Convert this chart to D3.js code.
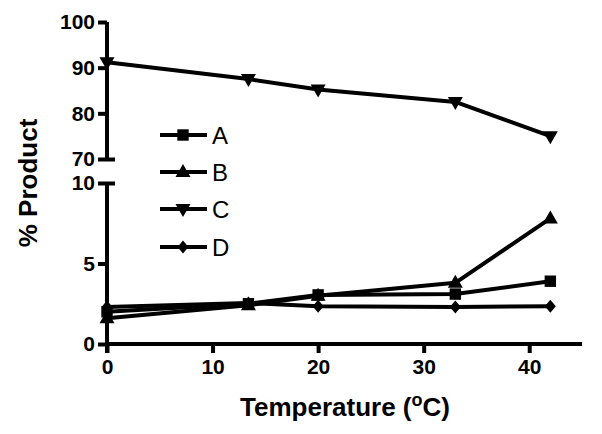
<!DOCTYPE html>
<html><head><meta charset="utf-8">
<script src="https://cdn.jsdelivr.net/npm/d3@7"></script>
<style>body{margin:0;background:#fff}svg{display:block}text{font-family:"Liberation Sans",Arial,sans-serif}</style>
</head><body>
<script>
const temps = [0, 13.4, 20, 33, 42];
const seriesA = [2.0, 2.5, 3.05, 3.1, 3.9];
const seriesB = [1.6, 2.4, 3.0, 3.8, 7.8];
const seriesC = [91.2, 87.5, 85.2, 82.5, 75.0];
const seriesD = [2.3, 2.55, 2.35, 2.3, 2.35];
const seriesNames = ["A", "B", "C", "D"];
const symbols = ["square", "triangle", "triangleDown", "diamond"];
const xTicks = [0, 10, 20, 30, 40];
const yTicksTop = [70, 80, 90, 100];
const yTicksBottom = [0, 5, 10];

const W = 602, H = 434;
const svg = d3.select("body").append("svg").attr("width", W).attr("height", H);

const x = d3.scaleLinear().domain([0, 45]).range([107, 582]);
const yTop = d3.scaleLinear().domain([70, 100]).range([159, 22]);
const yBot = d3.scaleLinear().domain([0, 10]).range([344, 183]);

function yOf(v) { return v >= 50 ? yTop(v) : yBot(v); }

const data = [seriesA, seriesB, seriesC, seriesD];

// axes
const gTop = svg.append("g").attr("transform", `translate(${x(0)},0)`)
  .call(d3.axisLeft(yTop).tickValues(yTicksTop).tickSize(9).tickPadding(3));
const gBot = svg.append("g").attr("transform", `translate(${x(0)},0)`)
  .call(d3.axisLeft(yBot).tickValues(yTicksBottom).tickSize(9).tickPadding(3));
const gX = svg.append("g").attr("transform", `translate(0,${yBot(0)})`)
  .call(d3.axisBottom(x).tickValues(xTicks).tickSize(9).tickPadding(6));

[gTop, gBot, gX].forEach(g => {
  g.select(".domain").attr("stroke", "#000").attr("stroke-width", 4);
  g.selectAll(".tick line").attr("stroke", "#000").attr("stroke-width", 4);
  g.selectAll(".tick text").attr("fill", "#000").style("font-size", "21px").style("font-weight", "bold")
    .style("font-family", '"Liberation Sans", Arial, sans-serif');
});
gTop.select(".domain").attr("d", `M0,${yTop(100)}V${yTop(70)}`);
gBot.select(".domain").attr("d", `M0,${yBot(10)}V${yBot(0) + 9}`);
gX.select(".domain").attr("d", `M${x(0)},0H${x(45)}`);
// break caps
gTop.selectAll(".tick").filter(d => d === 70).select("line").attr("x1", 8);
gBot.selectAll(".tick").filter(d => d === 10).select("line").attr("x1", 8);

// lines
const line = d3.line().x((d, i) => x(temps[i])).y(d => yOf(d));
data.forEach((s, k) => {
  svg.append("path").datum(s).attr("d", line).attr("fill", "none")
    .attr("stroke", "#000").attr("stroke-width", 4).attr("stroke-linejoin", "round");
});

function symPath(type) {
  if (type === "square") return d3.symbol(d3.symbolSquare, 130)();
  if (type === "triangle") return "M0,-8L7.5,5L-7.5,5Z";
  if (type === "triangleDown") return "M0,8L7.5,-5L-7.5,-5Z";
  if (type === "diamond") return "M0,-6.5L5.5,0L0,6.5L-5.5,0Z";
}
data.forEach((s, k) => {
  svg.append("g").selectAll("path").data(s).join("path")
    .attr("transform", (d, i) => `translate(${x(temps[i])},${yOf(d)})`)
    .attr("d", symPath(symbols[k])).attr("fill", "#000");
});

// legend
const legY = [135, 172, 209, 247];
seriesNames.forEach((n, k) => {
  const g = svg.append("g").attr("transform", `translate(0,${legY[k]})`);
  g.append("line").attr("x1", 160).attr("x2", 207).attr("stroke", "#000").attr("stroke-width", 4);
  g.append("path").attr("transform", "translate(183,0)").attr("d", symPath(symbols[k])).attr("fill", "#000");
  g.append("text").attr("x", 212).attr("y", 9).style("font-size", "24px").text(n);
});

// axis titles
const xt = svg.append("text").attr("x", 345).attr("y", 416).attr("text-anchor", "middle")
  .style("font-size", "26px").style("font-weight", "bold");
xt.append("tspan").text("Temperature (");
xt.append("tspan").attr("dy", -10).style("font-size", "18px").text("o");
xt.append("tspan").attr("dy", 10).text("C)");

svg.append("text").attr("transform", "translate(37,183) rotate(-90)").attr("text-anchor", "middle")
  .style("font-size", "26px").style("font-weight", "bold").text("% Product");
</script>
</body></html>
